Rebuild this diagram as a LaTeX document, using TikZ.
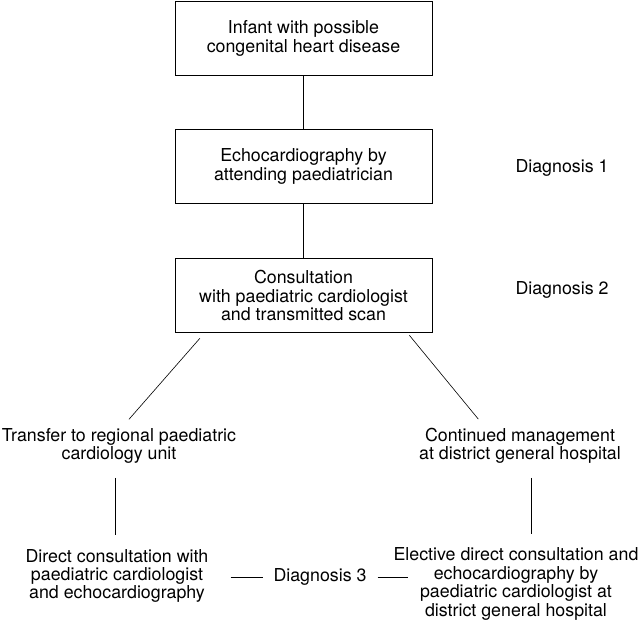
\documentclass[tikz,border=0pt]{standalone}
\usepackage{fontspec}
\setmainfont{TeX Gyre Heros}
\usepackage{tikz}
\usetikzlibrary{positioning}
\newcommand{\txtsize}{\fontsize{17.8}{18.4}\selectfont}

\begin{document}
\begin{tikzpicture}[x=1pt, y=-1pt,
    stagebox/.style={draw, line width=0.9pt, minimum width=257pt, minimum height=74pt, align=center, inner sep=2pt},
    plain/.style={align=center, inner sep=2pt},
    link/.style={line width=0.6pt}]
      \txtsize
      \useasboundingbox (0,0) rectangle (640,619);
      \node[stagebox] (infant) at (303.5,38.5) {Infant with possible\\congenital heart disease};
      \node[stagebox] (echo) at (303.5,166.5) {Echocardiography by\\attending paediatrician};
      \node[stagebox] (consult) at (303.5,295.5) {Consultation\\with paediatric cardiologist\\and transmitted scan};
      \node[plain] (diagA) at (562,168) {Diagnosis 1};
      \node[plain] (diagB) at (562,290) {Diagnosis 2};
      \node[plain] (transfer) at (119,446) {Transfer to regional paediatric\\cardiology unit};
      \node[plain] (continued) at (520,446) {Continued management\\at district general hospital};
      \node[plain] (direct) at (117,576) {Direct consultation with\\paediatric cardiologist\\and echocardiography};
      \node[plain] (diagC) at (320,577) {Diagnosis 3};
      \node[plain] (elective) at (516,584) {Elective direct consultation and\\echocardiography by\\paediatric cardiologist at\\district general hospital};
      % tree
      \path[link] (infant) edge (echo);
      \path[link] (echo) edge (consult);
      \path[link] ([xshift=30pt]consult.south west) edge[shorten <=7pt, shorten >=9pt] ([xshift=4pt]transfer.north);
      \path[link] ([xshift=-25pt]consult.south east) edge[shorten <=3pt, shorten >=9pt] ([xshift=-36pt]continued.north);
      \path[link] ([xshift=-4pt]transfer.south) edge[shorten <=12pt, shorten >=12pt] ([xshift=-2pt]direct.north);
      \path[link] ([xshift=11pt]continued.south) edge[shorten <=12pt, shorten >=12pt] ([xshift=15pt]elective.north);
      \path[link] (direct.east |- diagC.west) edge[shorten <=20pt, shorten >=8pt] (diagC.west);
      \path[link] (diagC.east) edge[shorten <=9pt, shorten >=-17pt] (diagC.east -| elective.west);
    \end{tikzpicture}
\end{document}
